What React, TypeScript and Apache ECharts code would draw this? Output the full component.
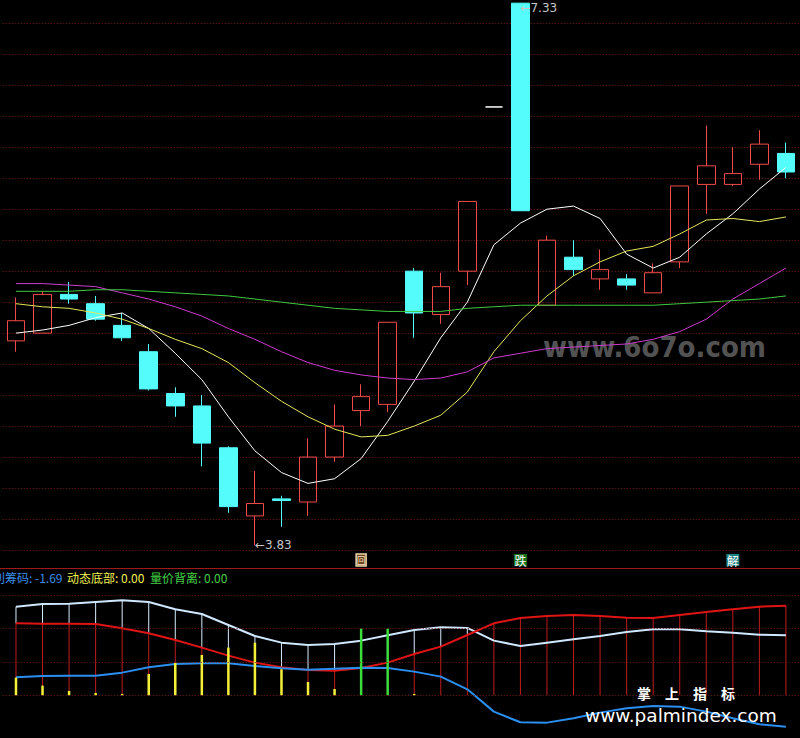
import React, { useEffect, useRef } from 'react';
import * as echarts from 'echarts';

// ---------- data ----------
const categories = ['1','2','3','4','5','6','7','8','9','10','11','12','13','14','15','16','17','18','19','20','21','22','23','24','25','26','27','28','29','30'];

const opens  = [5.15,5.20,5.45,5.39,5.25,5.08,4.81,4.73,4.46,4.02,4.13,4.11,4.40,4.70,4.74,5.60,5.32,5.60,6.66,7.33,5.38,5.69,5.55,5.55,5.46,5.66,6.16,6.16,6.29,6.36];
const closes = [5.28,5.45,5.42,5.29,5.17,4.84,4.73,4.49,4.08,4.10,4.12,4.40,4.60,4.79,5.27,5.33,5.50,6.05,6.66,5.99,5.80,5.61,5.61,5.51,5.59,6.15,6.28,6.23,6.42,6.24];
const lows   = [5.08,5.20,5.39,5.28,5.15,4.83,4.66,4.34,4.04,3.83,3.95,4.02,4.37,4.60,4.69,5.17,5.26,5.51,6.66,5.99,5.38,5.57,5.48,5.48,5.46,5.62,5.97,6.15,6.19,6.20];
const highs  = [5.43,5.47,5.53,5.44,5.33,5.13,4.85,4.80,4.47,4.31,4.15,4.52,4.74,4.87,5.27,5.62,5.59,6.05,6.66,7.33,5.83,5.80,5.74,5.58,5.65,6.15,6.54,6.40,6.51,6.43];

const ma5  = [5.20,5.22,5.25,5.30,5.33,5.23,5.07,4.90,4.66,4.44,4.30,4.23,4.26,4.39,4.63,4.89,5.17,5.40,5.77,5.91,6.00,6.02,5.94,5.71,5.62,5.69,5.84,5.97,6.13,6.27];
const ma10 = [5.39,5.37,5.36,5.33,5.29,5.23,5.16,5.10,5.01,4.88,4.76,4.66,4.58,4.53,4.54,4.60,4.67,4.82,5.08,5.28,5.44,5.57,5.66,5.73,5.76,5.84,5.93,5.94,5.92,5.95];
const ma20 = [5.52,5.52,5.51,5.50,5.46,5.42,5.37,5.31,5.23,5.16,5.08,5.01,4.96,4.93,4.91,4.90,4.91,4.95,5.04,5.07,5.10,5.11,5.12,5.13,5.16,5.21,5.29,5.42,5.52,5.62];
const ma60 = [5.47,5.47,5.47,5.48,5.48,5.47,5.46,5.45,5.44,5.42,5.40,5.38,5.36,5.35,5.34,5.34,5.34,5.36,5.37,5.38,5.38,5.38,5.38,5.38,5.38,5.39,5.40,5.41,5.42,5.44];

// indicator panel (arbitrary units, gridlines at 0/10/20/30)
const oscWhite = [26.6,27.4,27.5,28.0,28.5,28.0,25.8,24.4,21.1,17.8,15.8,15.1,15.4,16.4,18.0,19.6,20.4,20.2,16.4,14.8,15.8,16.8,17.8,19.0,19.8,19.8,19.2,18.8,18.2,18.0];
const oscRed   = [21.6,21.5,21.5,21.4,20.1,18.6,16.6,14.3,11.9,9.8,8.4,7.6,7.4,8.2,9.8,12.4,14.6,18.1,21.6,23.2,23.8,24.1,23.8,23.3,23.2,24.1,25.0,25.8,26.6,26.9];
const oscBlue  = [5.4,5.8,5.9,5.9,6.8,8.4,9.4,9.6,9.6,8.8,8.1,7.7,8.0,8.3,8.2,7.1,5.6,1.8,-4.9,-8.1,-8.2,-6.9,-5.2,-3.9,-3.2,-3.4,-4.9,-6.9,-8.7,-9.4];
const oscYellow = [5.3,2.9,1.3,0.7,0.4,6.4,9.7,12.1,14.3,15.8,7.8,4.0,1.9,0,0,0.4,0,0,0,0,0,0,0,0,0,0,0,0,0,0];
const oscGreen  = [0,0,0,0,0,0,0,0,0,0,0,0,0,20,20,0,0,0,0,0,0,0,0,0,0,0,0,0,0,0];
const oscGridValues = [0, 10, 20, 30];

const legendNames = ['获利筹码', '动态底部', '量价背离'];
const legendValues = ['-1.69', '0.00', '0.00'];

const signalIdx = [13, 19, 27];
const signalText = ['回', '跌', '解'];

const highIdx = 19; const highVal = 7.33;
const lowIdx = 9; const lowVal = 3.83;

// ---------- styles ----------
const UP = '#f04a4a';
const DOWN = '#54fcfc';
const GRID = '#7a1e1e';
const CJK = '"Noto Sans CJK SC"';

export default function App() {
  const ref = useRef<HTMLDivElement>(null);
  useEffect(() => {
    if (!ref.current) return;
    const chart = echarts.init(ref.current, null, { renderer: 'svg' });
    const ohlc = categories.map((_, i) => [opens[i], closes[i], lows[i], highs[i]]);
    const whiteStem = oscWhite.map((w, i) => Math.max(w - oscRed[i], 0));
    const legendX = [-19, 67, 150];
    const legendColors = ['#3a8ee8', '#f0f050', '#44d044'];

    const option: any = {
      animation: false,
      backgroundColor: '#000000',
      grid: [
        { left: 2.7, width: 796.5, top: 23.3, height: 526.7 },
        { left: 2.7, width: 796.5, top: 568.5, height: 169.5 },
      ],
      xAxis: [
        { type: 'category', data: categories, gridIndex: 0, show: false },
        { type: 'category', data: categories, gridIndex: 1, show: false },
        { type: 'category', data: categories, gridIndex: 1, show: false, position: 'top' },
      ],
      yAxis: [
        {
          type: 'value', gridIndex: 0, min: 3.8, max: 7.2, interval: 0.2,
          axisLine: { show: false }, axisTick: { show: false }, axisLabel: { show: false },
          splitLine: { show: true, lineStyle: { color: GRID, type: [1, 2], width: 1 } },
        },
        { type: 'value', gridIndex: 1, min: -12.81, max: 38.04, show: false },
      ],
      series: [
        {
          type: 'candlestick', xAxisIndex: 0, yAxisIndex: 0, data: ohlc, barWidth: 18, clip: false, z: 2,
          itemStyle: { color: 'transparent', color0: DOWN, borderColor: UP, borderColor0: DOWN, borderColorDoji: '#ffffff', borderWidth: 1 },
        },
        { type: 'line', name: 'MA5', data: ma5, xAxisIndex: 0, yAxisIndex: 0, symbol: 'none', z: 3, lineStyle: { color: '#ffffff', width: 1 } },
        { type: 'line', name: 'MA10', data: ma10, xAxisIndex: 0, yAxisIndex: 0, symbol: 'none', z: 3, lineStyle: { color: '#e6e65a', width: 1 } },
        { type: 'line', name: 'MA20', data: ma20, xAxisIndex: 0, yAxisIndex: 0, symbol: 'none', z: 3, lineStyle: { color: '#cc3ccc', width: 1 } },
        { type: 'line', name: 'MA60', data: ma60, xAxisIndex: 0, yAxisIndex: 0, symbol: 'none', z: 3, lineStyle: { color: '#40c840', width: 1 } },

        { type: 'bar', xAxisIndex: 1, yAxisIndex: 1, stack: 'stem', data: oscRed, barWidth: 1, z: 2, itemStyle: { color: '#c01c1c' } },
        { type: 'bar', xAxisIndex: 1, yAxisIndex: 1, stack: 'stem', data: whiteStem, barWidth: 1, z: 2, itemStyle: { color: '#d6ecff' } },
        { type: 'line', data: oscWhite, xAxisIndex: 1, yAxisIndex: 1, symbol: 'none', z: 3, lineStyle: { color: '#cfe8ff', width: 2 } },
        { type: 'line', data: oscRed, xAxisIndex: 1, yAxisIndex: 1, symbol: 'none', z: 3, lineStyle: { color: '#e01414', width: 2 } },
        {
          type: 'line', data: oscBlue, xAxisIndex: 1, yAxisIndex: 1, symbol: 'none', z: 3, lineStyle: { color: '#2a8ff0', width: 2 },
          markLine: {
            silent: true, symbol: 'none', label: { show: false },
            lineStyle: { color: GRID, type: [1, 2], width: 1 },
            data: oscGridValues.map((v) => ({ yAxis: v })),
          },
        },
        { type: 'bar', xAxisIndex: 2, yAxisIndex: 1, stack: 'yg', data: oscYellow, barWidth: 2.5, z: 4, itemStyle: { color: '#f4f03a' } },
        { type: 'bar', xAxisIndex: 2, yAxisIndex: 1, stack: 'yg', data: oscGreen, barWidth: 2.5, z: 4, itemStyle: { color: '#3cdc3c' } },
      ],
    };
    chart.setOption(option);

    // annotations positioned through the chart's own scales
    const toPx = (idx: number, val: number) => chart.convertToPixel({ xAxisIndex: 0, yAxisIndex: 0 }, [idx, val]) as number[];
    const [hx, hy] = toPx(highIdx, highVal);
    const [lx, ly] = toPx(lowIdx, lowVal);
    const sepY = 568.5;
    const signalY = sepY - 8.5;
    const signalColors = [
      { bg: '#6e421c', border: '#ecd6ac', fg: '#f3e4c4' },
      { bg: '#16701c', border: '#16701c', fg: '#ffffff' },
      { bg: '#1c8080', border: '#1c8080', fg: '#ffffff' },
    ];
    const signalEls: any[] = [];
    signalIdx.forEach((idx, k) => {
      const [sx] = toPx(idx, highVal);
      const w = k === 0 ? 10 : 13;
      signalEls.push({
        type: 'rect', z: 6, shape: { x: sx - w / 2, y: signalY - 6, width: w, height: 12 },
        style: { fill: signalColors[k].bg, stroke: k === 0 ? signalColors[k].border : null, lineWidth: k === 0 ? 1.5 : 0 },
      });
      signalEls.push({
        type: 'text', z: 7, x: sx, y: signalY,
        style: { text: signalText[k], fill: signalColors[k].fg, font: (k === 0 ? '9px ' : '12px ') + CJK, align: 'center', verticalAlign: 'middle' },
      });
    });

    chart.setOption({
      graphic: [
        { type: 'line', z: 5, shape: { x1: 0, y1: sepY, x2: 800, y2: sepY }, style: { stroke: '#a01818', lineWidth: 1 } },
        ...legendNames.map((n, k) => ({
          type: 'text', z: 5, x: legendX[k], y: 577,
          style: { text: n + ': ' + legendValues[k], fill: legendColors[k], font: '12px ' + CJK, verticalAlign: 'middle' },
        })),
        { type: 'text', z: 6, x: hx, y: hy + 5, style: { text: '←' + highVal.toFixed(2), fill: '#c4c4c4', font: '12px "DejaVu Sans"', verticalAlign: 'middle' } },
        { type: 'text', z: 6, x: lx, y: ly, style: { text: '←' + lowVal.toFixed(2), fill: '#c4c4c4', font: '12px "DejaVu Sans"', verticalAlign: 'middle' } },
        ...signalEls,
        { type: 'text', z: 1, x: 543, y: 347, style: { text: 'www.6o7o.com', fill: '#525252', font: 'bold 29px "DejaVu Sans Condensed"', verticalAlign: 'middle' } },
        { type: 'text', z: 10, x: 637, y: 693, style: { text: '掌　上　指　标', fill: '#ffffff', font: 'bold 14px ' + CJK, verticalAlign: 'middle' } },
        { type: 'text', z: 10, x: 585, y: 715, style: { text: 'www.palmindex.com', fill: '#ffffff', font: '18.5px "DejaVu Sans"', verticalAlign: 'middle' } },
      ],
    });
    return () => chart.dispose();
  }, []);
  return <div ref={ref} style={{ position: 'absolute', left: 0, top: 0, width: 800, height: 738 }} />;
}
